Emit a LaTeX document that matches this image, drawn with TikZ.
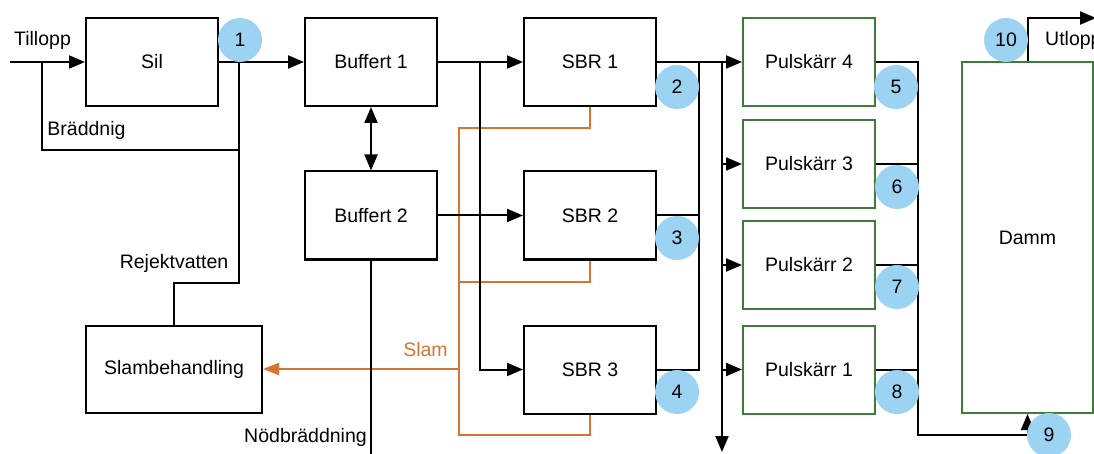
\documentclass[tikz,border=0pt]{standalone}
\usepackage{fontspec}
\setmainfont{Liberation Sans}
\usetikzlibrary{arrows.meta,calc}
\definecolor{cblue}{RGB}{156,210,242}
\definecolor{corange}{RGB}{217,115,50}
\definecolor{cgreen}{RGB}{63,123,58}
\tikzset{
  box/.style={draw=black,line width=2pt,minimum width=132pt,minimum height=88pt,inner sep=0pt,fill=white},
  gbox/.style={box,draw=cgreen},
  num/.style={circle,fill=cblue,minimum size=44pt,inner sep=0pt},
  ln/.style={line width=2pt,draw=black},
  arr/.style={ln,-{Triangle[length=16pt,width=13pt]}},
  dbl/.style={ln,{Triangle[length=16pt,width=13pt]}-{Triangle[length=16pt,width=13pt]}},
  orl/.style={line width=1.8pt,draw=corange},
  orarr/.style={orl,-{Triangle[length=16pt,width=12pt]}},
  lbl/.style={inner sep=0pt}
}
\begin{document}
\begin{tikzpicture}[x=1pt,y=-1pt,font=\fontsize{19.5}{23}\selectfont]
\useasboundingbox (0,0) rectangle (1094,454);
\clip (0,0) rectangle (1094,454);
% boxes
\node[box] (sil) at (152,62) {Sil};
\node[box] (buf1) at (371,62) {Buffert 1};
\node[box] (buf2) at (371,215.5) {Buffert 2};
\node[box] (sbr1) at (590,62) {SBR 1};
\node[box] (sbr2) at (590,215.5) {SBR 2};
\node[box] (sbr3) at (590,369.5) {SBR 3};
\node[box,minimum width=176pt,minimum height=87pt] (slam) at (174,369.5) {Slambehandling};
\node[gbox] (p4) at (809,62) {Pulskärr 4};
\node[gbox] (p3) at (809,164) {Pulskärr 3};
\node[gbox] (p2) at (809,265) {Pulskärr 2};
\node[gbox] (p1) at (809,369.5) {Pulskärr 1};
\node[gbox,minimum width=131pt,minimum height=351pt] (damm) at (1027.5,237.5) {Damm};
% coordinates
\coordinate (tin) at (10,62);
\coordinate (bA) at (42,62);
\coordinate (j1) at (239,62);
\coordinate (bC) at (239,150);
\coordinate (rj) at (239,283);
\coordinate (sp) at (480,62);
\coordinate (nb) at (371,456);
\coordinate (c1) at (699,62);
\coordinate (d1) at (722,62);
\coordinate (d2) at (722,452);
\coordinate (e2) at (918,435);
\coordinate (uo) at (1096,18);
\coordinate (o1) at (459,128);
\coordinate (o2) at (459,282);
\coordinate (o3) at (459,369);
\coordinate (ob) at (459,435);
% orange sludge lines
\draw[orl] (sbr1.south) |- (o1) -- (ob) -| (sbr3.south);
\draw[orl] (sbr2.south) |- (o2);
\draw[orarr] (o3) -- (o3 -| slam.east);
% black connectors
\draw[arr] (tin) -- (sil.west);
\draw[ln] (bA) |- (bC);
\draw[ln] (j1) -- (rj) -| (slam.north);
\draw[arr] (sil.east) -- (buf1.west);
\draw[dbl] (buf1.south) -- (buf2.north);
\draw[arr] (buf1.east) -- (sbr1.west);
\draw[arr] (sp) |- (sbr3.west);
\draw[arr] (buf2.east) -- (sbr2.west);
\draw[ln] (buf2.south) -- (nb);
\draw[arr] (sbr1.east) -- (p4.west);
\draw[ln] (c1) |- (sbr3.east);
\draw[ln] (sbr2.east) -- (sbr2.east -| c1);
\draw[arr] (d1) -- (d2);
\draw[arr] (p3.west -| d1) -- (p3.west);
\draw[arr] (p2.west -| d1) -- (p2.west);
\draw[arr] (p1.west -| d1) -- (p1.west);
\draw[arr] (p4.east) -| (e2) -| (damm.south);
\draw[ln] (p3.east) -- (p3.east -| e2);
\draw[ln] (p2.east) -- (p2.east -| e2);
\draw[ln] (p1.east) -- (p1.east -| e2);
\draw[arr] (damm.north) |- (uo);
% number circles
\node[num] (n1) at (240,40) {1};
\node[num] (n2) at (677,87) {2};
\node[num] (n3) at (677,238) {3};
\node[num] (n4) at (677,392) {4};
\node[num] (n5) at (896,87) {5};
\node[num] (n6) at (897,187) {6};
\node[num] (n7) at (897,287) {7};
\node[num] (n8) at (897,392) {8};
\node[num] (n9) at (1049,435) {9};
\node[num] (n10) at (1006,40) {10};
% labels
\node[lbl] (ltill) at (42.5,40) {Tillopp};
\node[lbl] (lbrad) at (86.5,130) {Bräddnig};
\node[lbl] (lrej) at (174,263) {Rejektvatten};
\node[lbl] (lnod) at (305.5,437) {Nödbräddning};
\node[lbl,text=corange] (lslam) at (425.5,350) {Slam};
\node[lbl,anchor=west] (lut) at (1045,40) {Utlopp};
\end{tikzpicture}
\end{document}
